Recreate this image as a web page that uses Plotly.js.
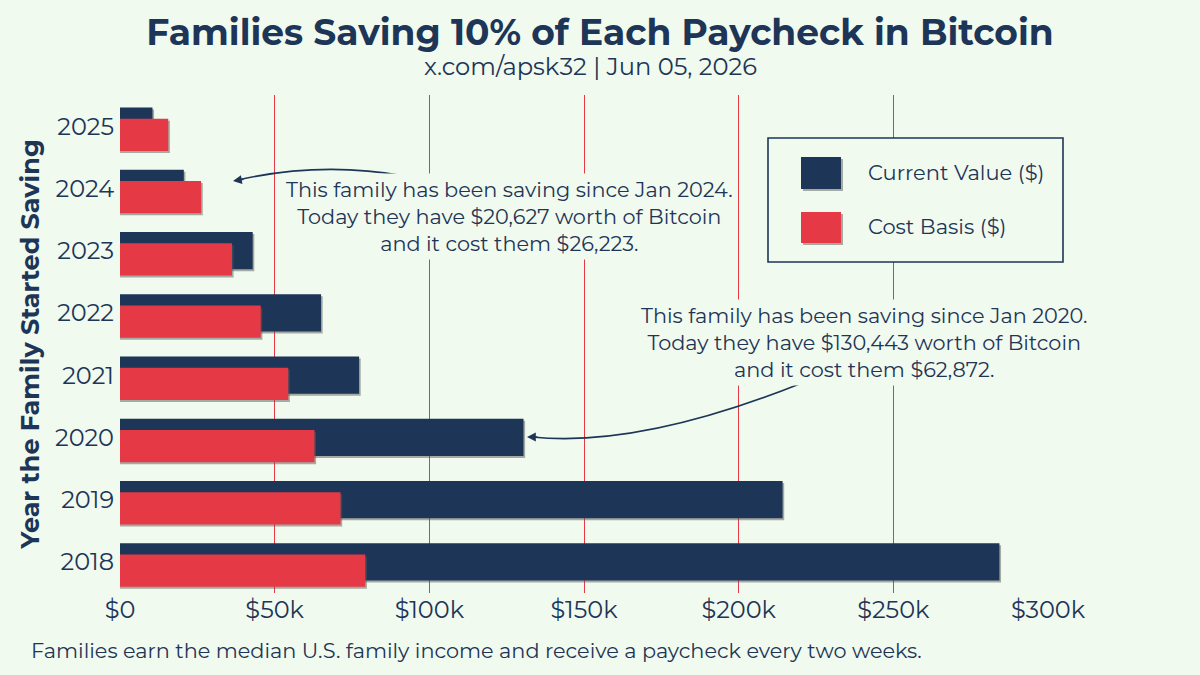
<!DOCTYPE html>
<html>
<head>
<meta charset="utf-8">
<script src="https://cdn.plot.ly/plotly-3.0.1.min.js"></script>
<style>
  html, body { margin: 0; padding: 0; background: #f1faee; }
  #chart { width: 1200px; height: 675px; }
</style>
</head>
<body>
<div id="chart"></div>
<script>
// ---- Data ----
const years = ['2018', '2019', '2020', '2021', '2022', '2023', '2024', '2025'];
const currentValue = [284300, 214200, 130443, 77300, 65000, 42900, 20627, 10500];
const costBasis = [79300, 71300, 62872, 54400, 45500, 36200, 26223, 15600];
const xTickValues = [0, 50000, 100000, 150000, 200000, 250000, 300000];
const xTickLabels = ['$0', '$50k', '$100k', '$150k', '$200k', '$250k', '$300k'];

// ---- Style ----
const BG = '#f1faee', NAVY = '#1d3557', RED = '#e63946', SHADOW = 'rgba(90,90,90,0.5)';
const FONT = 'Montserrat, "Open Sans", sans-serif';
const M = {l: 120, r: 152, t: 95, b: 82};
const W = 1200, H = 675;
const plotW = W - M.l - M.r, plotH = H - M.t - M.b;
const px = x => (x - M.l) / plotW;           // pixel -> paper x
const py = y => (H - M.b - y) / plotH;       // pixel -> paper y
const xMax = 300000;
const shadowDx = 1.6 * xMax / plotW;         // ~2px horizontal shadow
const shadowDy = 2.0 / (plotH / 8);          // ~2px vertical shadow in category units

const navyW = 0.6, navyOff = -0.3;
const redW = 0.52, redOff = -0.40;

const traces = [
  {type: 'bar', orientation: 'h', y: years, x: currentValue.map(v => v + shadowDx),
   width: navyW, offset: navyOff - shadowDy, marker: {color: SHADOW}, hoverinfo: 'skip', showlegend: false},
  {type: 'bar', orientation: 'h', y: years, x: currentValue, name: 'Current Value ($)',
   width: navyW, offset: navyOff, marker: {color: NAVY}, showlegend: false},
  {type: 'bar', orientation: 'h', y: years, x: costBasis.map(v => v + shadowDx),
   width: redW, offset: redOff - shadowDy, marker: {color: SHADOW}, hoverinfo: 'skip', showlegend: false},
  {type: 'bar', orientation: 'h', y: years, x: costBasis, name: 'Cost Basis ($)',
   width: redW, offset: redOff, marker: {color: RED}, showlegend: false}
];

function curve(x0, y0, cx, cy, x1, y1) {
  return {type: 'path', xref: 'paper', yref: 'paper', layer: 'above',
    path: `M ${px(x0)},${py(y0)} Q ${px(cx)},${py(cy)} ${px(x1)},${py(y1)}`,
    line: {color: NAVY, width: 1.6}};
}
function rect(x0, y0, x1, y1, fill, lineColor, lw) {
  return {type: 'rect', xref: 'paper', yref: 'paper', layer: 'above',
    x0: px(x0), x1: px(x1), y0: py(y1), y1: py(y0),
    fillcolor: fill, line: {color: lineColor || fill, width: lw || 0}};
}

const shapes = [
  // legend box
  rect(768, 138, 1063, 262, BG, NAVY, 1.6),
  rect(803, 159, 843, 191, SHADOW),
  rect(801, 157, 841, 189, NAVY),
  rect(803, 214, 843, 245, SHADOW),
  rect(801, 212, 841, 243, RED),
  // arrows
  curve(405, 176, 321, 161, 238, 180),
  curve(802, 383, 640, 448, 532, 437)
];

const annFont = {family: FONT, size: 20.8, color: NAVY};
const annotations = [
  {xref: 'paper', yref: 'paper', x: px(509), y: py(216), xanchor: 'center', yanchor: 'middle',
   text: 'This family has been saving since Jan 2024.<br>Today they have $20,627 worth of Bitcoin<br>and it cost them $26,223.',
   showarrow: false, font: annFont, bgcolor: BG, borderpad: 3, align: 'center'},
  {xref: 'paper', yref: 'paper', x: px(864), y: py(342), xanchor: 'center', yanchor: 'middle',
   text: 'This family has been saving since Jan 2020.<br>Today they have $130,443 worth of Bitcoin<br>and it cost them $62,872.',
   showarrow: false, font: annFont, bgcolor: BG, borderpad: 3, align: 'center'},
  // arrowheads
  {xref: 'paper', yref: 'paper', x: px(233), y: py(181), ax: 12, ay: -2, text: '',
   showarrow: true, arrowhead: 2, arrowsize: 1.1, arrowwidth: 1.6, arrowcolor: NAVY},
  {xref: 'paper', yref: 'paper', x: px(527), y: py(437), ax: 12, ay: 0, text: '',
   showarrow: true, arrowhead: 2, arrowsize: 1.1, arrowwidth: 1.6, arrowcolor: NAVY},
  // legend labels
  {xref: 'paper', yref: 'paper', x: px(866), y: py(173), xanchor: 'left', yanchor: 'middle',
   text: 'Current Value ($)', showarrow: false, font: {family: FONT, size: 21, color: NAVY}},
  {xref: 'paper', yref: 'paper', x: px(866), y: py(227), xanchor: 'left', yanchor: 'middle',
   text: 'Cost Basis ($)', showarrow: false, font: {family: FONT, size: 21, color: NAVY}},
  // subtitle
  {xref: 'paper', yref: 'paper', x: px(590), y: py(67), xanchor: 'center', yanchor: 'middle',
   text: 'x.com/apsk32 | Jun 05, 2026', showarrow: false, font: {family: FONT, size: 24.2, color: NAVY}},
  // footnote
  {xref: 'paper', yref: 'paper', x: px(29), y: py(650), xanchor: 'left', yanchor: 'middle',
   text: 'Families earn the median U.S. family income and receive a paycheck every two weeks.',
   showarrow: false, font: {family: FONT, size: 20.8, color: NAVY}}
];

const layout = {
  width: W, height: H,
  margin: M,
  paper_bgcolor: BG, plot_bgcolor: BG,
  barmode: 'overlay',
  font: {family: FONT, color: NAVY},
  title: {text: 'Families Saving 10% of Each Paycheck in Bitcoin',
          font: {family: FONT, size: 36, color: NAVY, weight: 'bold'},
          x: 600 / W, xanchor: 'center', xref: 'container', y: 1 - 32 / H, yanchor: 'middle'},
  xaxis: {range: [0, xMax], tickvals: xTickValues, ticktext: xTickLabels,
          showgrid: true, gridcolor: RED, gridwidth: 1, zeroline: false, showline: false,
          ticks: '', tickfont: {family: FONT, size: 24, color: NAVY}, fixedrange: true},
  yaxis: {type: 'category', categoryarray: years, range: [-0.5, 7.5],
          showgrid: false, zeroline: false, showline: false, ticks: '',
          ticklabelstandoff: 5,
          tickfont: {family: FONT, size: 24, color: NAVY},
          title: {text: 'Year the Family Started Saving', standoff: 8,
                  font: {family: FONT, size: 25.5, color: NAVY, weight: 'bold'}}},
  shapes: shapes,
  annotations: annotations,
  showlegend: false
};

Plotly.newPlot('chart', traces, layout, {displayModeBar: false, staticPlot: true});
</script>
</body>
</html>
